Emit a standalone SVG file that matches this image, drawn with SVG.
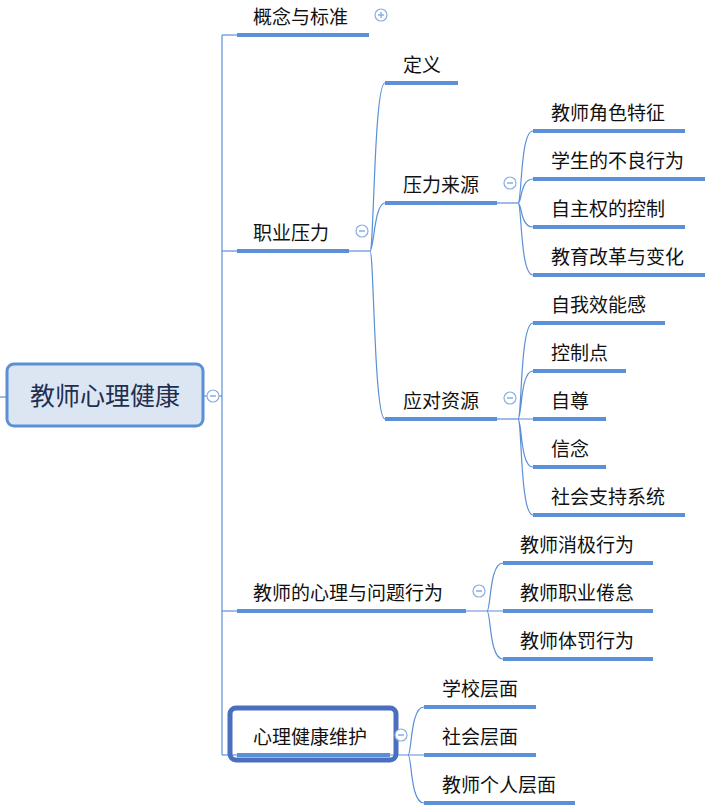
<svg xmlns="http://www.w3.org/2000/svg" width="718" height="809" viewBox="0 0 718 809">
<style>
.bar{stroke:#5b8fd6;stroke-width:4;fill:none}
.ln{stroke:#5b8fd6;stroke-width:1.2;fill:none}
.t{font-family:"Noto Sans CJK SC","Liberation Sans",sans-serif;font-size:19px;fill:#111}
.c{fill:#fff;stroke:#8aaee0;stroke-width:1.2}
.cs{stroke:#8aaee0;stroke-width:1.5}
</style>
<rect width="718" height="809" fill="#fff"/>
<g id="connectors">
<line class="ln" x1="0" y1="397" x2="7" y2="397"/>
<line class="ln" x1="203" y1="396" x2="222" y2="396"/>
<line class="ln" x1="222" y1="35" x2="222" y2="755"/>
<line class="ln" x1="222" y1="35" x2="237" y2="35"/>
<line class="ln" x1="222" y1="251" x2="237" y2="251"/>
<line class="ln" x1="222" y1="611" x2="237" y2="611"/>
<line class="ln" x1="222" y1="755" x2="237" y2="755"/>
<line class="ln" x1="349" y1="251" x2="370" y2="251"/>
<path class="ln" d="M370,251 C374,251 374,83 385,83 M370,251 C374,251 374,203 385,203 M370,251 C374,251 374,419 385,419"/>
<line class="ln" x1="497" y1="203" x2="518" y2="203"/>
<path class="ln" d="M518,203 C522,203 520,131 533,131 M518,203 C522,203 520,179 533,179 M518,203 C522,203 520,227 533,227 M518,203 C522,203 520,275 533,275"/>
<line class="ln" x1="497" y1="419" x2="518" y2="419"/>
<path class="ln" d="M518,419 C522,419 520,323 533,323 M518,419 C522,419 520,371 533,371 M518,419 L533,419 M518,419 C522,419 520,467 533,467 M518,419 C522,419 520,515 533,515"/>
<line class="ln" x1="466" y1="611" x2="503" y2="611"/>
<path class="ln" d="M487,611 C491,611 489,563 503,563 M487,611 C491,611 489,659 503,659"/>
<line class="ln" x1="390" y1="755" x2="424" y2="755"/>
<path class="ln" d="M408,755 C412,755 410,707 424,707 M408,755 C412,755 410,803 424,803"/>
</g>
<g id="root">
<rect x="7" y="364" width="196" height="62" rx="7" fill="#dce6f2" stroke="#5b8fd6" stroke-width="3"/>
<text x="105" y="405" text-anchor="middle" style="font-family:'Noto Sans CJK SC',sans-serif;font-size:25px;fill:#1f2f4f">教师心理健康</text>
<circle class="c" cx="213" cy="396" r="6"/><line class="cs" x1="210" y1="396" x2="216" y2="396"/>
</g>
<g id="n1"><line class="bar" x1="237" y1="35" x2="369" y2="35"/><text class="t" x="253" y="24">概念与标准</text>
<circle class="c" cx="381" cy="15" r="6"/><line class="cs" x1="378" y1="15" x2="384" y2="15"/><line class="cs" x1="381" y1="12" x2="381" y2="18"/></g>
<g id="n2"><line class="bar" x1="237" y1="251" x2="349" y2="251"/><text class="t" x="253" y="240">职业压力</text>
<circle class="c" cx="362" cy="231" r="6"/><line class="cs" x1="359" y1="231" x2="365" y2="231"/></g>
<g id="n2a"><line class="bar" x1="385" y1="83" x2="458" y2="83"/><text class="t" x="403" y="72">定义</text></g>
<g id="n2b"><line class="bar" x1="385" y1="203" x2="497" y2="203"/><text class="t" x="403" y="192">压力来源</text>
<circle class="c" cx="510" cy="183" r="6"/><line class="cs" x1="507" y1="183" x2="513" y2="183"/></g>
<g id="n2b1"><line class="bar" x1="533" y1="131" x2="685" y2="131"/><text class="t" x="551" y="120">教师角色特征</text></g>
<g id="n2b2"><line class="bar" x1="533" y1="179" x2="705" y2="179"/><text class="t" x="551" y="168">学生的不良行为</text></g>
<g id="n2b3"><line class="bar" x1="533" y1="227" x2="685" y2="227"/><text class="t" x="551" y="216">自主权的控制</text></g>
<g id="n2b4"><line class="bar" x1="533" y1="275" x2="705" y2="275"/><text class="t" x="551" y="264">教育改革与变化</text></g>
<g id="n2c"><line class="bar" x1="385" y1="419" x2="497" y2="419"/><text class="t" x="403" y="408">应对资源</text>
<circle class="c" cx="510" cy="398" r="6"/><line class="cs" x1="507" y1="398" x2="513" y2="398"/></g>
<g id="n2c1"><line class="bar" x1="533" y1="323" x2="665" y2="323"/><text class="t" x="551" y="312">自我效能感</text></g>
<g id="n2c2"><line class="bar" x1="533" y1="371" x2="626" y2="371"/><text class="t" x="551" y="360">控制点</text></g>
<g id="n2c3"><line class="bar" x1="533" y1="419" x2="606" y2="419"/><text class="t" x="551" y="408">自尊</text></g>
<g id="n2c4"><line class="bar" x1="533" y1="467" x2="606" y2="467"/><text class="t" x="551" y="456">信念</text></g>
<g id="n2c5"><line class="bar" x1="533" y1="515" x2="685" y2="515"/><text class="t" x="551" y="504">社会支持系统</text></g>
<g id="n3"><line class="bar" x1="237" y1="611" x2="466" y2="611"/><text class="t" x="253" y="600">教师的心理与问题行为</text>
<circle class="c" cx="479" cy="591" r="6"/><line class="cs" x1="476" y1="591" x2="482" y2="591"/></g>
<g id="n3a"><line class="bar" x1="503" y1="563" x2="653" y2="563"/><text class="t" x="520" y="552">教师消极行为</text></g>
<g id="n3b"><line class="bar" x1="503" y1="611" x2="653" y2="611"/><text class="t" x="520" y="600">教师职业倦怠</text></g>
<g id="n3c"><line class="bar" x1="503" y1="659" x2="653" y2="659"/><text class="t" x="520" y="648">教师体罚行为</text></g>
<g id="n4"><line class="bar" x1="237" y1="755" x2="390" y2="755"/>
<rect x="230" y="708" width="166" height="52" rx="6" fill="none" stroke="#4a6fc1" stroke-width="5"/>
<text class="t" x="253" y="744">心理健康维护</text>
<circle class="c" cx="401" cy="735" r="6"/><line class="cs" x1="398" y1="735" x2="404" y2="735"/></g>
<g id="n4a"><line class="bar" x1="424" y1="707" x2="536" y2="707"/><text class="t" x="442" y="696">学校层面</text></g>
<g id="n4b"><line class="bar" x1="424" y1="755" x2="536" y2="755"/><text class="t" x="442" y="744">社会层面</text></g>
<g id="n4c"><line class="bar" x1="424" y1="803" x2="575" y2="803"/><text class="t" x="442" y="792">教师个人层面</text></g>
</svg>
